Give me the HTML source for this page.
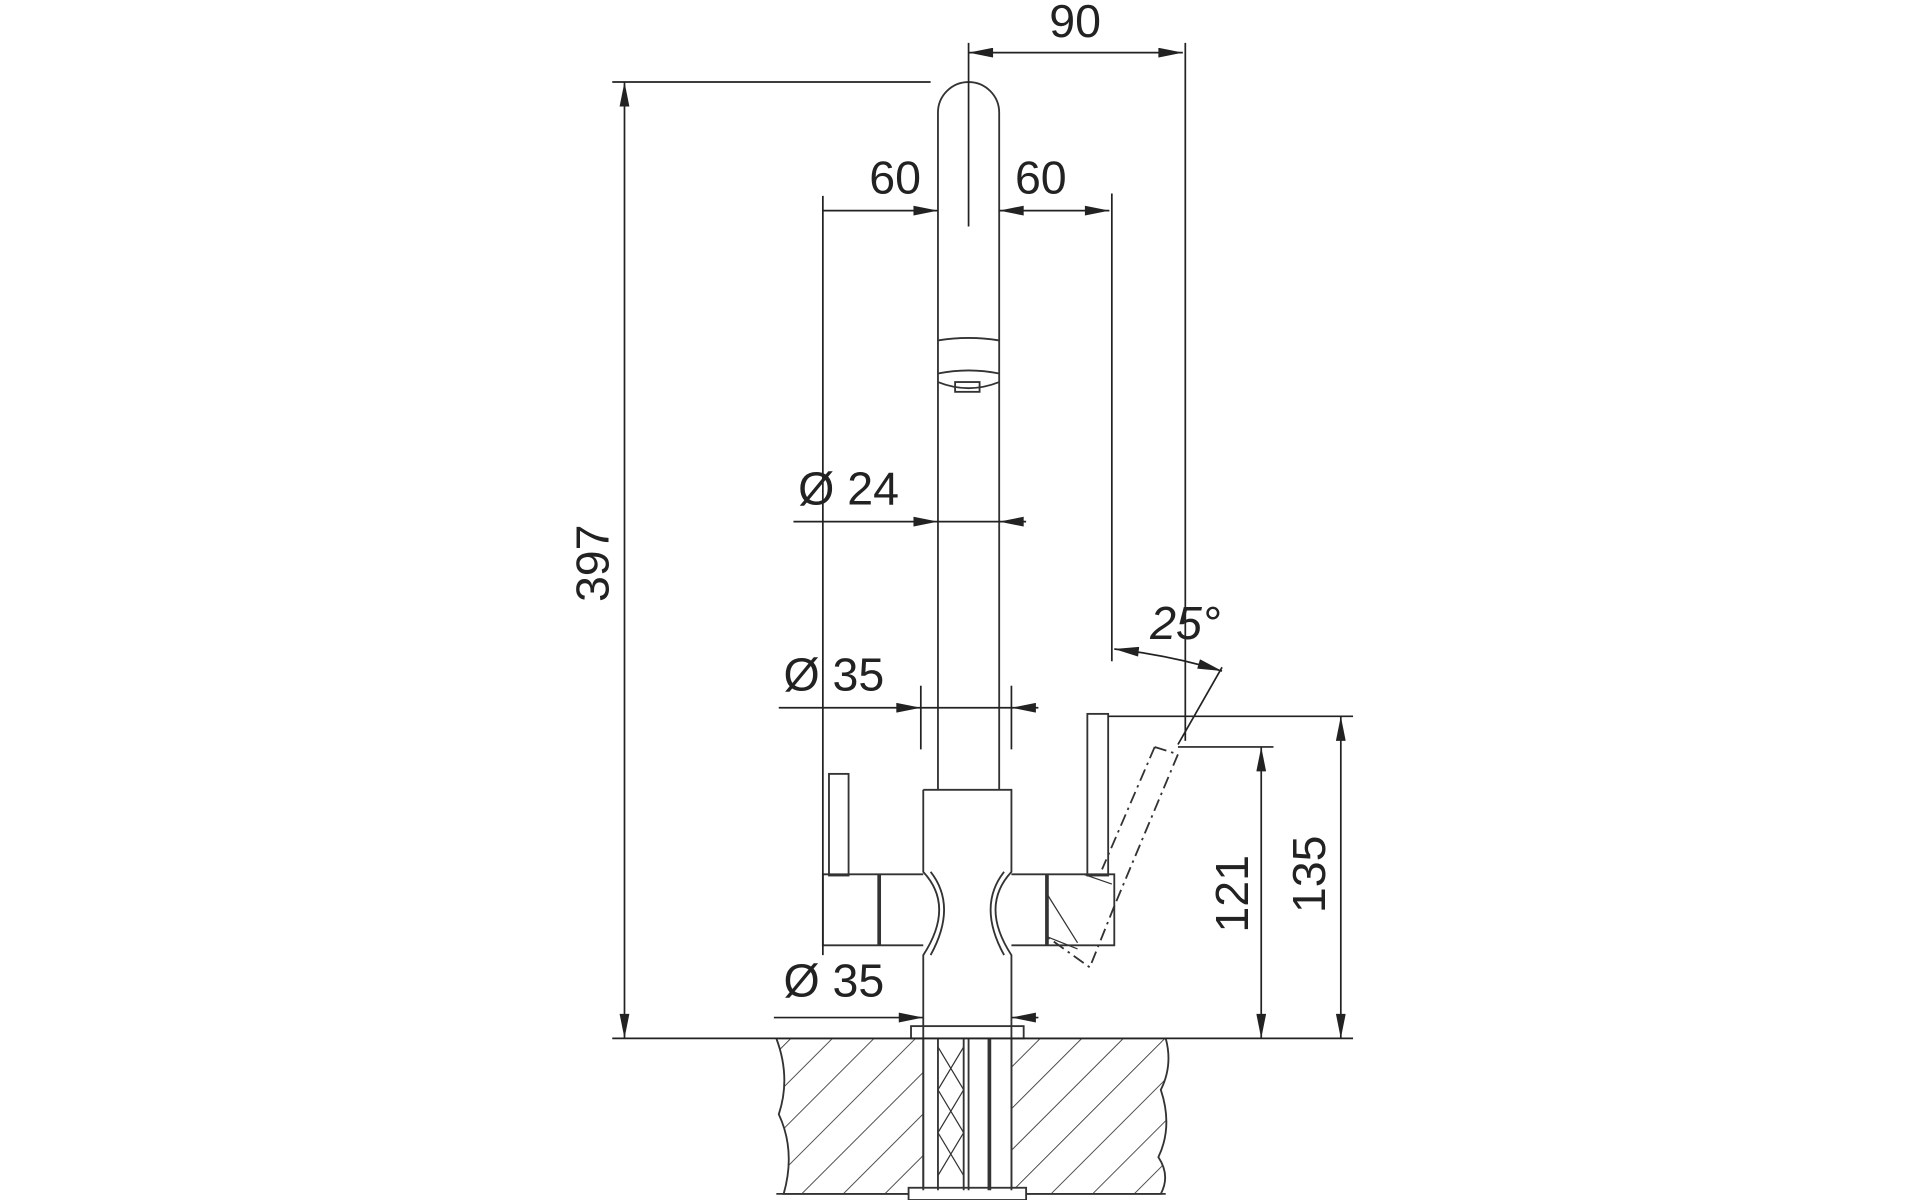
<!DOCTYPE html>
<html><head><meta charset="utf-8"><style>html,body{margin:0;padding:0;background:#fff}svg{display:block}</style></head>
<body>
<svg width="1920" height="1200" viewBox="0 0 1568 980" xmlns="http://www.w3.org/2000/svg" font-family="Liberation Sans, sans-serif">
<defs>
<marker id="a" viewBox="0 0 20 8" refX="20" refY="4" markerWidth="22" markerHeight="8" orient="auto-start-reverse" markerUnits="userSpaceOnUse"><path d="M0,0 L20,4 L0,8z" fill="#222"/></marker>
<pattern id="h" patternUnits="userSpaceOnUse" width="24" height="24" patternTransform="rotate(45)"><line x1="0" y1="0" x2="0" y2="24" stroke="#333" stroke-width="1.4"/></pattern>
</defs>
<g stroke="#333" fill="none" stroke-width="1.5">
<!-- countertop hatch -->
<path d="M634,848 H754 V975 H640 Q650,940 636,910 Q646,880 634,848z" fill="url(#h)"/>
<path d="M826,848 H952 Q958,870 948,890 Q958,920 946,945 Q956,960 948,975 H826z" fill="url(#h)"/>
<line x1="634" y1="975" x2="952" y2="975"/>
<!-- flanges -->
<rect x="744" y="838" width="92" height="10" fill="#fff"/>
<rect x="742" y="970" width="96" height="10" fill="#fff"/>
<!-- pipes -->
<line x1="754" y1="848" x2="754" y2="972"/><line x1="826" y1="848" x2="826" y2="972"/>
<line x1="766" y1="848" x2="766" y2="972"/><line x1="787" y1="848" x2="787" y2="972"/><line x1="791" y1="848" x2="791" y2="972"/>
<line x1="808" y1="848" x2="808" y2="972" stroke-width="3"/>
<path d="M766,855 L787,890 L766,925 L787,960 M787,855 L766,890 L787,925 L766,960" stroke-width="1"/>
<!-- spout -->
<path d="M766,645 V92 A25,25 0 0 1 816,92 V645"/>
<path d="M766,278 Q791,274 816,278 M766,305 Q791,300 816,305 M766,312 Q791,322 816,312"/>
<rect x="780" y="312" width="20" height="8"/>
<!-- body -->
<path d="M754,645 H826 V712 Q800,740 826,780 V848 M754,848 V780 Q780,740 754,712 V645"/>
<path d="M760,712 Q782,740 760,780 M820,712 Q798,740 820,780"/>
<!-- left handle -->
<path d="M754,714 H672 V772 H754"/><line x1="718" y1="714" x2="718" y2="772" stroke-width="3"/>
<rect x="677" y="632" width="16" height="83"/>
<!-- right handle -->
<path d="M826,714 H910 V772 H826"/><line x1="855" y1="714" x2="855" y2="772" stroke-width="3"/>
<rect x="888" y="583" width="17" height="132"/>
<path d="M855,730 L880,770 M885,714 L908,722 M855,765 L880,775" stroke-width="1"/>
<!-- dashed tilted lever -->
<path d="M943,610 L962,616 L910,740 M943,610 L900,710 M910,740 L890,790 L855,765" stroke-dasharray="10,4,2,4"/>
<!-- dimensions -->
<g stroke="#222" stroke-width="1.4">
<line x1="791" y1="35" x2="791" y2="185"/>
<line x1="791" y1="43" x2="966" y2="43" marker-start="url(#a)" marker-end="url(#a)"/>
<line x1="968" y1="35" x2="968" y2="605"/>
<line x1="500" y1="67" x2="760" y2="67"/>
<line x1="510" y1="67" x2="510" y2="848" marker-start="url(#a)" marker-end="url(#a)"/>
<line x1="500" y1="848" x2="1105" y2="848"/>
<line x1="672" y1="160" x2="672" y2="780"/><line x1="908" y1="158" x2="908" y2="540"/>
<line x1="672" y1="172" x2="766" y2="172" marker-end="url(#a)"/>
<line x1="816" y1="172" x2="906" y2="172" marker-start="url(#a)" marker-end="url(#a)"/>
<line x1="648" y1="426" x2="766" y2="426" marker-end="url(#a)"/>
<line x1="838" y1="426" x2="816" y2="426" marker-end="url(#a)"/>
<line x1="766" y1="426" x2="816" y2="426"/>
<line x1="752" y1="560" x2="752" y2="612"/><line x1="826" y1="560" x2="826" y2="612"/>
<line x1="636" y1="578" x2="752" y2="578" marker-end="url(#a)"/>
<line x1="848" y1="578" x2="826" y2="578" marker-end="url(#a)"/>
<line x1="752" y1="578" x2="826" y2="578"/>
<line x1="632" y1="831" x2="754" y2="831" marker-end="url(#a)"/>
<line x1="848" y1="831" x2="826" y2="831" marker-end="url(#a)"/>
<line x1="905" y1="585" x2="1105" y2="585"/>
<line x1="1095" y1="585" x2="1095" y2="848" marker-start="url(#a)" marker-end="url(#a)"/>
<line x1="962" y1="610" x2="1040" y2="610"/>
<line x1="1030" y1="610" x2="1030" y2="848" marker-start="url(#a)" marker-end="url(#a)"/>
<line x1="962" y1="608" x2="998" y2="545"/>
<path d="M910,530 Q955,535 998,548" marker-start="url(#a)" marker-end="url(#a)"/>
</g>
</g>
<g fill="#222" font-size="38">
<text x="878" y="30" text-anchor="middle">90</text>
<text x="731" y="158" text-anchor="middle">60</text>
<text x="850" y="158" text-anchor="middle">60</text>
<text x="693" y="412" text-anchor="middle">Ø 24</text>
<text x="681" y="564" text-anchor="middle">Ø 35</text>
<text x="681" y="814" text-anchor="middle">Ø 35</text>
<text x="968" y="522" text-anchor="middle" font-style="italic">25°</text>
<text transform="translate(497,460) rotate(-90)" text-anchor="middle">397</text>
<text transform="translate(1019,730) rotate(-90)" text-anchor="middle">121</text>
<text transform="translate(1082,714) rotate(-90)" text-anchor="middle">135</text>
</g>
</svg>
</body></html>
